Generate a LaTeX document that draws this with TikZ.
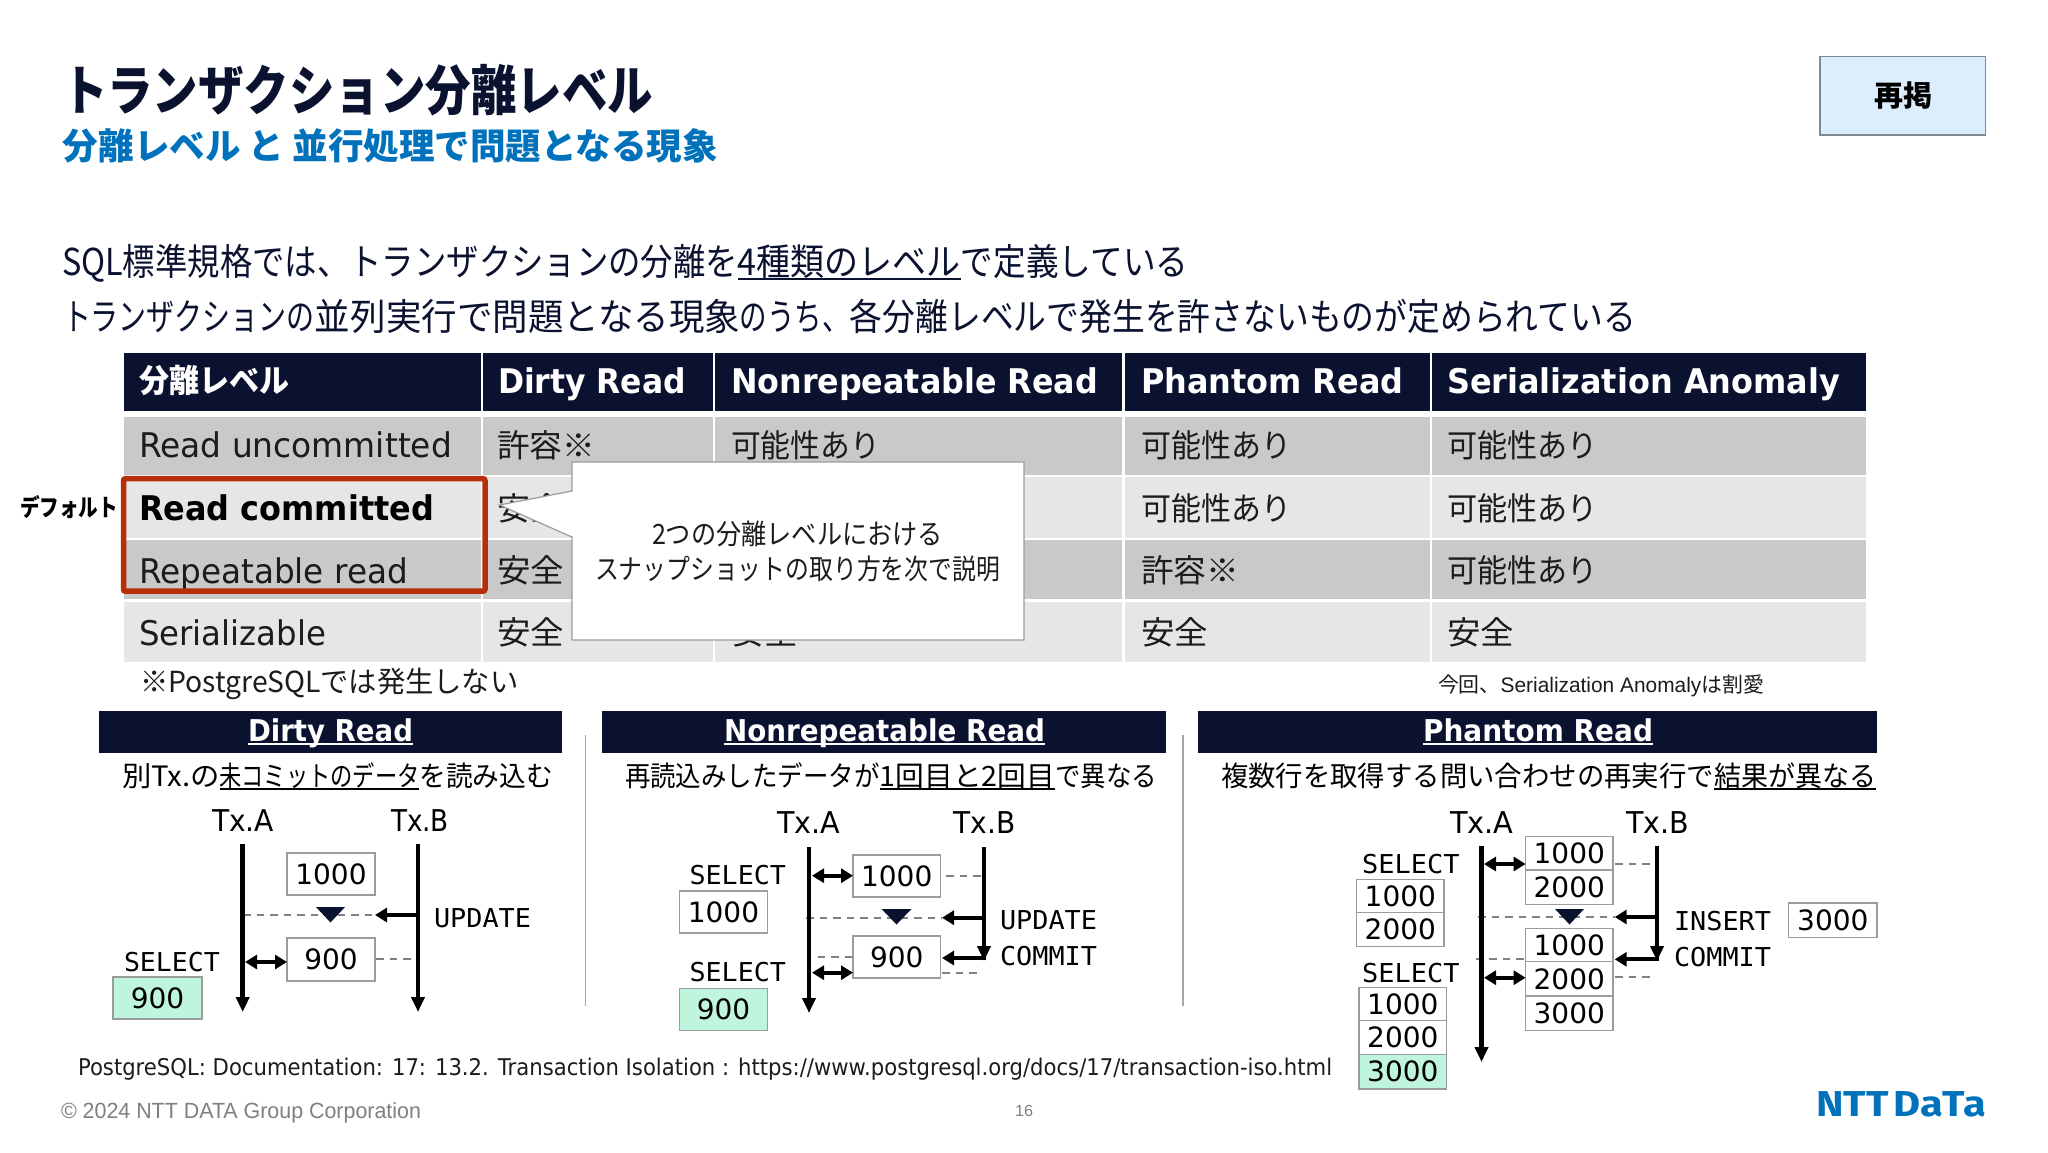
\documentclass[tikz,border=0pt]{standalone}
\usepackage{fontspec}
\usepackage{graphicx}
\usetikzlibrary{arrows.meta,calc}
\setmainfont{DejaVu Sans}
\newfontfamily\jpf{Noto Sans CJK JP}
\newfontfamily\monof{DejaVu Sans Mono}
\newfontfamily\arialf{Liberation Sans}
\newfontfamily\logof{Fira Sans}
\newcommand\jt[1]{{\jpf #1}}
\newcommand\ulx[1]{\setbox2=\hbox{#1}\rlap{\rule[-0.13em]{\wd2}{0.07em}}\box2}
\newcommand\fitw[2]{\setbox0=\hbox{#2}\pgfmathsetmacro\fitr{#1/\the\wd0}\scalebox{\fitr}[1]{\box0}}
\definecolor{navy}{HTML}{0A1230}
\definecolor{inktext}{HTML}{1C1C1C}
\definecolor{nttblue}{HTML}{0072BC}
\definecolor{rowdark}{HTML}{C9C9C9}
\definecolor{rowlight}{HTML}{E6E6E6}
\definecolor{redbox}{HTML}{B72E0B}
\definecolor{mint}{HTML}{BFF5DC}
\definecolor{edge}{HTML}{9C9C9C}
\definecolor{dashc}{HTML}{808080}
\definecolor{sepc}{HTML}{A6A6A6}
\definecolor{tagfill}{HTML}{DCEEFE}
\definecolor{tagedge}{HTML}{808890}
\tikzset{
  x=1pt,y=-1pt,
  lab/.style={inner sep=0pt,outer sep=0pt,anchor=base west},
  valbox/.style={draw=edge,line width=1.2pt,inner sep=0pt,outer sep=0pt,font=\fontsize{28}{32}\selectfont,text=black},
  life/.style={line width=4.7pt,-{Triangle[length=15pt,width=13pt]},black},
  thickarr/.style={line width=4pt,-{Triangle[length=12pt,width=14pt]},black},
  dbl/.style={line width=4pt,{Triangle[length=12pt,width=14pt]}-{Triangle[length=12pt,width=14pt]},black},
  dashline/.style={line width=1.8pt,draw=dashc,dash pattern=on 7.5pt off 6pt},
  septr/.style={line width=1.4pt,draw=sepc},
  bar/.style={fill=navy},
  downtri/.style={fill=navy},
}
% name, x, centre y, width, font size, font commands, text
\newcommand\T[7]{\node[lab] (#1) at ({#2},{#3+0.36*#5}) {\fontsize{#5}{#5}\selectfont #6\fitw{#4}{#7}};}
% name, x1, y1, x2, y2, fill, text
\newcommand\B[7]{\node[valbox,fill=#6,minimum width={(#4)-(#2)},minimum height={(#5)-(#3)}] (#1) at ({((#2)+(#4))/2},{((#3)+(#5))/2}) {\raisebox{-1.3pt}{#7}};}
\begin{document}
\begin{tikzpicture}
\useasboundingbox (0,0) rectangle (2048,1152);
\fill[white] (0,0) rectangle (2048,1152);
% title
\T{title}{62}{91}{591}{54}{\color{navy}\bfseries\jpf}{トランザクション分離レベル}
\T{subtitle}{63}{147}{655}{36}{\color{nttblue}\bfseries\jpf}{分離レベル と 並行処理で問題となる現象}
\node[draw=tagedge,fill=tagfill,line width=1.2pt,minimum width=165.7pt,minimum height=78.3pt,inner sep=0pt] (tag) at (1902.8,95.8) {};
\T{tagtext}{1874}{96}{58}{29}{\color{black}\bfseries\jpf}{再掲}
% body
\T{body1}{62}{262}{1126.5}{37}{\color{navy}\jpf}{\fitw{676}{SQL標準規格では、トランザクションの分離を}\ulx{\fitw{223}{4種類のレベル}}\fitw{227.5}{で定義している}}
\T{body2}{63}{317}{1573}{37}{\color{navy}\jpf}{\fitw{252}{トランザクションの}\fitw{425}{並列実行で問題となる現象}\fitw{110}{のうち、}\fitw{786}{各分離レベルで発生を許さないものが定められている}}
% table
\foreach \xa/\xb in {124/480.5,482.6/713,715/1122,1124.5/1430,1432/1866}{
  \fill[navy] (\xa,353) rectangle (\xb,411);
  \fill[rowdark] (\xa,417) rectangle (\xb,475);
  \fill[rowlight] (\xa,477) rectangle (\xb,538);
  \fill[rowdark] (\xa,540) rectangle (\xb,599);
  \fill[rowlight] (\xa,602) rectangle (\xb,662);
}
\T{h1}{139}{381}{150}{32}{\color{white}\bfseries\jpf}{分離レベル}
\T{h2}{498}{381.5}{188}{34}{\color{white}\bfseries}{Dirty Read}
\T{h3}{731}{381.5}{367}{34}{\color{white}\bfseries}{Nonrepeatable Read}
\T{h4}{1141}{381.5}{262.5}{34}{\color{white}\bfseries}{Phantom Read}
\T{h5}{1447}{381.5}{393}{34}{\color{white}\bfseries}{Serialization Anomaly}
\T{r1c1}{139}{445.5}{313}{34}{\color{inktext}}{Read uncommitted}
\T{r2c1}{139}{508.5}{295}{34}{\color{black}\bfseries}{Read committed}
\T{r3c1}{139}{571.5}{269}{34}{\color{inktext}}{Repeatable read}
\T{r4c1}{139}{633.5}{187}{34}{\color{inktext}}{Serializable}
\T{r1c2}{497}{446}{98}{32}{\color{inktext}\jpf}{許容※}
\T{r2c2}{497}{509}{67}{32}{\color{inktext}\jpf}{安全}
\T{r3c2}{497}{571}{67}{32}{\color{inktext}\jpf}{安全}
\T{r4c2}{497}{633}{67}{32}{\color{inktext}\jpf}{安全}
\T{r1c3}{731}{446}{149}{32}{\color{inktext}\jpf}{可能性あり}
\T{r4c3}{731}{633}{67}{32}{\color{inktext}\jpf}{安全}
\T{r1c4}{1141}{446}{150}{32}{\color{inktext}\jpf}{可能性あり}
\T{r2c4}{1141}{509}{150}{32}{\color{inktext}\jpf}{可能性あり}
\T{r3c4}{1141}{571}{98}{32}{\color{inktext}\jpf}{許容※}
\T{r4c4}{1141}{633}{67}{32}{\color{inktext}\jpf}{安全}
\T{r1c5}{1447}{446}{150.5}{32}{\color{inktext}\jpf}{可能性あり}
\T{r2c5}{1447}{509}{150.5}{32}{\color{inktext}\jpf}{可能性あり}
\T{r3c5}{1447}{571}{150.5}{32}{\color{inktext}\jpf}{可能性あり}
\T{r4c5}{1447}{633}{67}{32}{\color{inktext}\jpf}{安全}
% red box
\draw[redbox,line width=5.5pt,rounded corners=2pt] (123.5,478.7) rectangle (485,591.2);
\T{deflabel}{20}{508}{98}{24}{\color{black}\bfseries\jpf}{デフォルト}
% callout
\draw[fill=white,draw=edge,line width=1.2pt] (572,462) -- (1024,462) -- (1024,640) -- (572,640) -- (572,537) -- (499.5,505) -- (572,491) -- cycle;
\T{call1}{652}{534}{291}{28}{\color{inktext}\jpf}{2つの分離レベルにおける}
\T{call2}{595}{569.5}{405}{28}{\color{inktext}\jpf}{スナップショットの取り方を次で説明}
% notes
\T{note1}{140}{682.5}{378.5}{29}{\color{inktext}\jpf}{※PostgreSQLでは発生しない}
\T{note2}{1438}{685}{326}{21}{\color{inktext}\arialf}{\jt{今回、}Serialization Anomaly\jt{は割愛}}
% ---- panel 1
\fill[bar] (99,711) rectangle (562,753);
\T{t1}{248}{730.5}{165}{30}{\color{white}\bfseries}{\ulx{Dirty Read}}
\T{s1}{122}{776}{431}{28}{\color{black}\jpf}{\fitw{97.5}{別Tx.の}\ulx{\fitw{200}{未コミットのデータ}}\fitw{133.5}{を読み込む}}
\T{a1}{212}{820.5}{62}{30}{\color{black}}{Tx.A}
\T{b1}{391}{820.5}{58}{30}{\color{black}}{Tx.B}
\B{p1v1}{287}{853}{375}{895}{white}{1000}
\B{p1v2}{287}{938}{375}{981}{white}{900}
\B{p1res}{113}{977}{202}{1019}{mint}{900}
\T{p1sel}{124}{962}{96}{26}{\color{black}\monof}{SELECT}
\T{p1upd}{434}{918}{97}{26}{\color{black}\monof}{UPDATE}
\coordinate (p1at) at (242.7,844); \coordinate (p1ab) at (242.7,1012);
\coordinate (p1bt) at (418,844); \coordinate (p1bb) at (418,1012);
\coordinate (p1u) at (243,915); \coordinate (p1ub) at (418,915); \coordinate (p1ue) at (375,915);
\coordinate (p1d) at (245,962); \coordinate (p1r) at (376,959); \coordinate (p1re) at (415,959);
\draw[dashline] (p1u) -- (p1ue);
\draw[life] (p1at) -- (p1ab);
\draw[life] (p1bt) -- (p1bb);
\draw[thickarr] (p1ub) -- (p1ue);
\draw[dbl] (p1d) -- (p1v2.west |- p1d);
\draw[dashline] (p1r) -- (p1re);
\fill[downtri] (316,907) -- (345,907) -- (330.5,922.5) -- cycle;
\coordinate (sep1t) at (585.7,735); \coordinate (sep1b) at (585.7,1006);
\draw[septr] (sep1t) -- (sep1b);
% ---- panel 2
\fill[bar] (601.5,711) rectangle (1165.5,753);
\T{t2}{724}{730.5}{321}{30}{\color{white}\bfseries}{\ulx{Nonrepeatable Read}}
\T{s2}{625}{776}{532}{28}{\color{black}\jpf}{\fitw{254.7}{再読込みしたデータが}\ulx{\fitw{175.3}{1回目と2回目}}\fitw{102}{で異なる}}
\T{a2}{777.5}{822.5}{63}{30}{\color{black}}{Tx.A}
\T{b2}{953.5}{822.5}{62}{30}{\color{black}}{Tx.B}
\B{p2v1}{853}{855}{940.5}{897}{white}{1000}
\B{p2v2}{853}{936}{940.5}{978}{white}{900}
\B{p2l1}{679.5}{891}{767.5}{933}{white}{1000}
\B{p2res}{679.5}{988.7}{767.5}{1030.7}{mint}{900}
\T{p2sel1}{689.5}{875}{96.5}{26}{\color{black}\monof}{SELECT}
\T{p2sel2}{689.5}{972}{96.5}{26}{\color{black}\monof}{SELECT}
\T{p2upd}{1000}{920}{97}{26}{\color{black}\monof}{UPDATE}
\T{p2com}{1000}{956}{97}{26}{\color{black}\monof}{COMMIT}
\coordinate (p2at) at (809,847); \coordinate (p2ab) at (809,1013);
\coordinate (p2bt) at (984,847); \coordinate (p2bb) at (984,961);
\coordinate (p2d1) at (812,875.7); \coordinate (p2d2) at (812,972.7);
\coordinate (p2r1) at (946,875.7); \coordinate (p2r1e) at (984,875.7);
\coordinate (p2u) at (806,917.7); \coordinate (p2ue) at (942,917.7); \coordinate (p2ub) at (984,917.7);
\coordinate (p2c) at (986,958); \coordinate (p2ce) at (942,958);
\coordinate (p2l) at (817.7,957); \coordinate (p2r2) at (942,972.7); \coordinate (p2r2e) at (982,972.7);
\draw[dashline] (p2r1) -- (p2r1e);
\draw[dashline] (p2u) -- (p2ue);
\draw[dashline] (p2l) -- (p2v2.west |- p2l);
\draw[dashline] (p2r2) -- (p2r2e);
\draw[life] (p2at) -- (p2ab);
\draw[life] (p2bt) -- (p2bb);
\draw[thickarr] (p2ub) -- (p2ue);
\draw[thickarr] (p2c) -- (p2ce);
\draw[dbl] (p2d1) -- (p2v1.west |- p2d1);
\draw[dbl] (p2d2) -- (p2v2.west |- p2d2);
\fill[downtri] (881.6,909) -- (911.5,909) -- (896.5,924.5) -- cycle;
\coordinate (sep2t) at (1183,735); \coordinate (sep2b) at (1183,1006);
\draw[septr] (sep2t) -- (sep2b);
% ---- panel 3
\fill[bar] (1198,711) rectangle (1877,753);
\T{t3}{1423}{730.5}{230}{30}{\color{white}\bfseries}{\ulx{Phantom Read}}
\T{s3}{1221}{776}{655}{28}{\color{black}\jpf}{\fitw{493}{複数行を取得する問い合わせの再実行で}\ulx{\fitw{162}{結果が異なる}}}
\T{a3}{1450}{822.5}{63.5}{30}{\color{black}}{Tx.A}
\T{b3}{1626}{822.5}{63}{30}{\color{black}}{Tx.B}
\B{p3t1}{1525.6}{836.7}{1613}{870}{white}{1000}
\B{p3t2}{1525.6}{870}{1613}{904.3}{white}{2000}
\B{p3u1}{1525.6}{928.7}{1613}{961.7}{white}{1000}
\B{p3u2}{1525.6}{961.7}{1613}{996}{white}{2000}
\B{p3u3}{1525.6}{996}{1613}{1030.7}{white}{3000}
\B{p3l1}{1356.7}{879.3}{1444}{912.3}{white}{1000}
\B{p3l2}{1356.7}{912.3}{1444}{946.7}{white}{2000}
\B{p3m1}{1359}{987.3}{1446.7}{1020.7}{white}{1000}
\B{p3m2}{1359}{1020.7}{1446.7}{1054.3}{white}{2000}
\B{p3m3}{1359}{1054.3}{1446.7}{1089}{mint}{3000}
\B{p3ins}{1788.7}{903}{1877}{937.7}{white}{3000}
\T{p3sel1}{1362}{864}{97.5}{26}{\color{black}\monof}{SELECT}
\T{p3sel2}{1362}{973}{97.5}{26}{\color{black}\monof}{SELECT}
\T{p3insl}{1674}{921}{97}{26}{\color{black}\monof}{INSERT}
\T{p3com}{1674}{957}{97}{26}{\color{black}\monof}{COMMIT}
\coordinate (p3at) at (1481.5,846); \coordinate (p3ab) at (1481.5,1062);
\coordinate (p3bt) at (1657,846); \coordinate (p3bb) at (1657,961);
\coordinate (p3d1) at (1484,864); \coordinate (p3d2) at (1484,977.7);
\coordinate (p3r1) at (1615,864); \coordinate (p3r1e) at (1657,864);
\coordinate (p3u) at (1478,917); \coordinate (p3ue) at (1614.7,917); \coordinate (p3ub) at (1657,917);
\coordinate (p3c) at (1659,959.3); \coordinate (p3ce) at (1614.7,959.3);
\coordinate (p3l) at (1475.6,959); \coordinate (p3r2) at (1615,977); \coordinate (p3r2e) at (1654,977);
\draw[dashline] (p3r1) -- (p3r1e);
\draw[dashline] (p3u) -- (p3ue);
\draw[dashline] (p3l) -- (p3u1.west |- p3l);
\draw[dashline] (p3r2) -- (p3r2e);
\draw[life] (p3at) -- (p3ab);
\draw[life] (p3bt) -- (p3bb);
\draw[thickarr] (p3ub) -- (p3ue);
\draw[thickarr] (p3c) -- (p3ce);
\draw[dbl] (p3d1) -- (p3t1.west |- p3d1);
\draw[dbl] (p3d2) -- (p3u2.west |- p3d2);
\fill[downtri] (1555,909) -- (1584,909) -- (1569.5,924.5) -- cycle;
% footer
\T{ref}{78}{1067}{1254}{23}{\color{inktext}}{PostgreSQL: Documentation: 17: 13.2. Transaction Isolation : https://www.postgresql.org/docs/17/transaction-iso.html}
\T{copy}{61}{1111}{360}{22}{\color{gray}\arialf}{© 2024 NTT DATA Group Corporation}
\T{pageno}{1015}{1111}{18}{16}{\color{gray}\arialf}{16}
\T{logo}{1816}{1104}{170}{36}{\color{nttblue}\bfseries\logof}{NTT\hspace{-0.12em} DaTa}
\end{tikzpicture}
\end{document}
